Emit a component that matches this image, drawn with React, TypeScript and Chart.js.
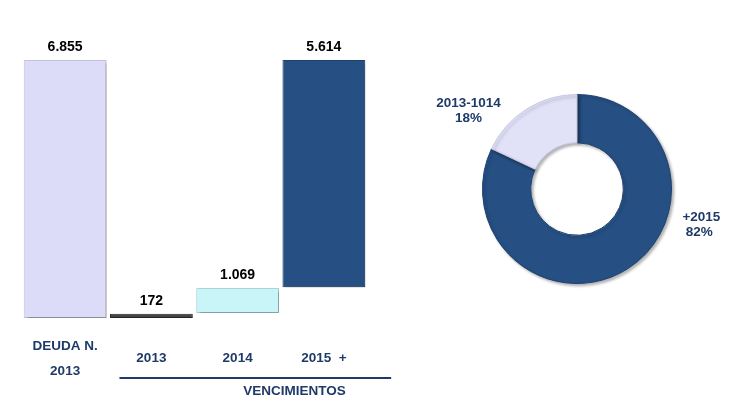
import React, { useEffect, useRef } from "react";
import { Chart, registerables } from "chart.js";

Chart.register(...registerables);

// ---- data ----
const categories: (string | string[])[] = [["DEUDA N.", "2013"], "2013", "2014", "2015  +"];
const valueLabels = ["6.855", "172", "1.069", "5.614"];
const barLow = [0, 0, 130, 820];
const barHigh = [6855, 110, 800, 6855];
const barColors = ["#DCDCF8", "#454545", "#C9F4F8", "#265084"];
const barBorders = ["#C4C4E0", "#2A2A2A", "#A9D8DC", "#1D4170"];
const groupLabel = "VENCIMIENTOS";

const pieLabels = ["+2015", "2013-1014"];
const pieValues = [82, 18];
const piePercents = ["82%", "18%"];
const pieColors = ["#265084", "#E1E1F8"];

const NAVY = "#1F3A68";
const FONT = "'Liberation Sans', Arial, sans-serif";

export default function App() {
  const barRef = useRef<HTMLCanvasElement | null>(null);
  const pieRef = useRef<HTMLCanvasElement | null>(null);

  useEffect(() => {
    if (!barRef.current || !pieRef.current) return;

    const barPlugin = {
      id: "barDecor",
      beforeDatasetsDraw(chart: any) {
        const ctx = chart.ctx;
        ctx.save();
        ctx.shadowColor = "rgba(0,0,0,0.35)";
        ctx.shadowOffsetX = 2;
        ctx.shadowOffsetY = 2;
        ctx.shadowBlur = 3;
      },
      afterDatasetsDraw(chart: any) {
        const ctx = chart.ctx;
        ctx.restore();
        const meta = chart.getDatasetMeta(0);
        ctx.save();
        ctx.fillStyle = "#000";
        ctx.font = `bold 14px ${FONT}`;
        ctx.textAlign = "center";
        ctx.textBaseline = "middle";
        meta.data.forEach((el: any, i: number) => {
          const top = Math.min(el.y, el.base);
          ctx.fillText(valueLabels[i], el.x, top - 13);
        });
        // VENCIMIENTOS bracket
        const xs = chart.scales.x;
        const p1 = xs.getPixelForValue(1);
        const p2 = xs.getPixelForValue(2);
        const p3 = xs.getPixelForValue(3);
        const step = p2 - p1;
        ctx.strokeStyle = NAVY;
        ctx.lineWidth = 2;
        ctx.beginPath();
        ctx.moveTo(p1 - 0.37 * step, 378);
        ctx.lineTo(p3 + 0.78 * step, 378);
        ctx.stroke();
        ctx.fillStyle = NAVY;
        ctx.font = `bold 13.5px ${FONT}`;
        ctx.fillText(groupLabel, p2 + 0.66 * step, 391);
        ctx.restore();
      },
    };

    const bar = new Chart(barRef.current, {
      type: "bar",
      data: {
        labels: categories as any,
        datasets: [
          {
            data: barLow.map((l, i) => [l, barHigh[i]]) as any,
            backgroundColor: barColors,
            borderColor: barBorders,
            borderWidth: 1,
            borderSkipped: false,
            barPercentage: 1,
            categoryPercentage: 0.96,
          },
        ],
      },
      options: {
        animation: false,
        responsive: false,
        devicePixelRatio: 1,
        layout: { padding: { left: 22, right: 33, top: 60, bottom: 0 } },
        plugins: { legend: { display: false }, tooltip: { enabled: false } },
        scales: {
          x: {
            grid: { display: false },
            border: { display: false },
            ticks: {
              color: NAVY,
              padding: 20,
              crossAlign: "center",
              font: { family: FONT, size: 13.5, weight: "bold", lineHeight: 25 / 13.5 },
            },
            afterFit: (s: any) => {
              s.height = 88;
            },
          },
          y: { display: false, min: 0, max: 6855 },
        },
      } as any,
      plugins: [barPlugin],
    });

    const piePlugin = {
      id: "pieDecor",
      beforeDatasetsDraw(chart: any) {
        const ctx = chart.ctx;
        ctx.save();
        ctx.shadowColor = "rgba(0,0,0,0.3)";
        ctx.shadowOffsetX = 2;
        ctx.shadowOffsetY = 2;
        ctx.shadowBlur = 3;
      },
      afterDatasetsDraw(chart: any) {
        const ctx = chart.ctx;
        ctx.restore();
        const arc = chart.getDatasetMeta(0).data[0];
        const cx = arc.x;
        const cy = arc.y;
        const r = arc.outerRadius / 95;
        ctx.save();
        ctx.fillStyle = NAVY;
        ctx.font = `bold 13.5px ${FONT}`;
        ctx.textAlign = "center";
        ctx.textBaseline = "middle";
        ctx.fillText(pieLabels[1], cx - 109 * r, cy - 86 * r);
        ctx.fillText(piePercents[1], cx - 109 * r, cy - 71 * r);
        ctx.fillText(pieLabels[0], cx + 125 * r, cy + 28 * r);
        ctx.fillText(piePercents[0], cx + 123 * r, cy + 44 * r);
        ctx.restore();
      },
    };

    const pie = new Chart(pieRef.current, {
      type: "doughnut",
      data: {
        labels: pieLabels,
        datasets: [
          {
            data: pieValues,
            backgroundColor: pieColors,
            borderColor: ["#1D4170", "#C8C8E4"],
            borderWidth: 1,
          },
        ],
      },
      options: {
        animation: false,
        responsive: false,
        devicePixelRatio: 1,
        cutout: "49%",
        layout: { padding: { top: 14, bottom: 14, left: 0, right: 0 } },
        plugins: { legend: { display: false }, tooltip: { enabled: false } },
      } as any,
      plugins: [piePlugin],
    });

    return () => {
      bar.destroy();
      pie.destroy();
    };
  }, []);

  return (
    <div
      style={{
        position: "absolute",
        left: 0,
        top: 0,
        width: 736,
        height: 406,
        background: "#fff",
        overflow: "hidden",
      }}
    >
      <canvas
        ref={barRef}
        width={400}
        height={406}
        style={{ position: "absolute", left: 0, top: 0, width: 400, height: 406 }}
      />
      <canvas
        ref={pieRef}
        width={314}
        height={218}
        style={{ position: "absolute", left: 420, top: 80, width: 314, height: 218 }}
      />
    </div>
  );
}
